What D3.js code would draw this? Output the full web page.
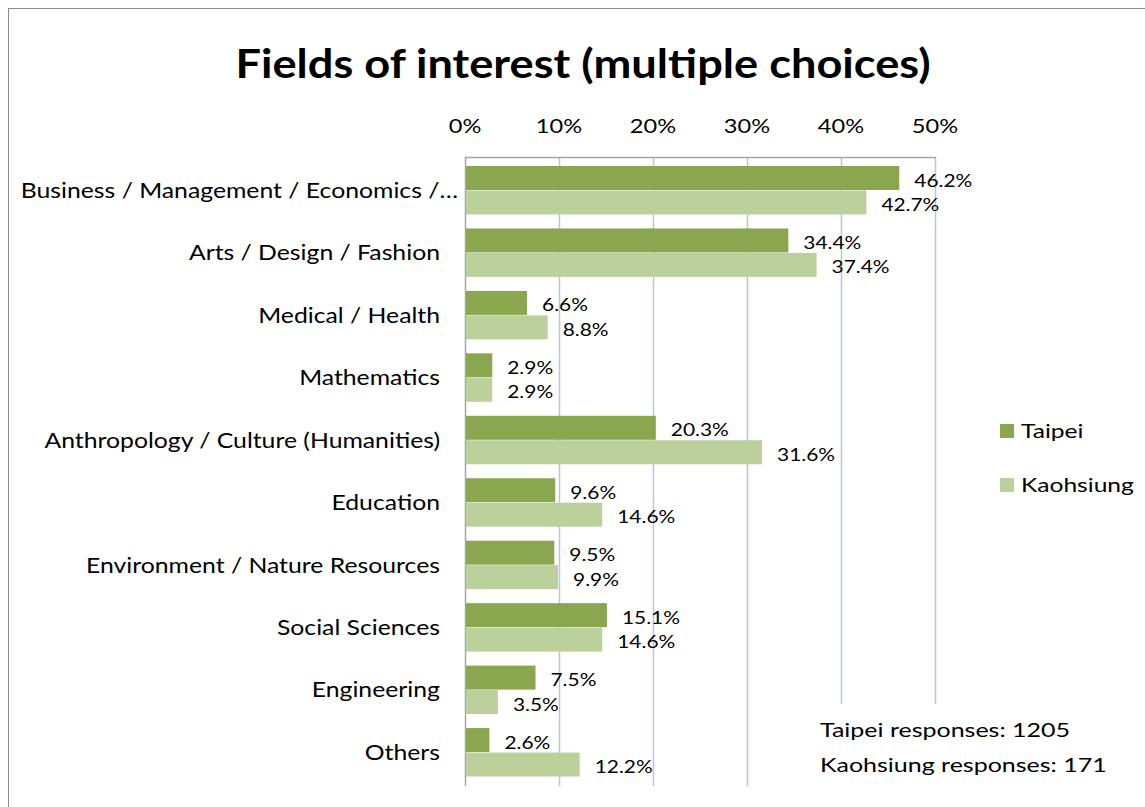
<!DOCTYPE html>
<html><head><meta charset="utf-8">
<script src="https://cdn.jsdelivr.net/npm/d3@7"></script>
<style>body{margin:0;background:#fff}svg{display:block}text{font-family:Lato,Carlito,Calibri,sans-serif}</style>
</head><body><svg id="c" width="1145" height="807"></svg>
<script>
const categories = ["Business / Management / Economics /…","Arts / Design / Fashion","Medical / Health","Mathematics","Anthropology / Culture (Humanities)","Education","Environment / Nature Resources","Social Sciences","Engineering","Others"];
const taipei = [46.2,34.4,6.6,2.9,20.3,9.6,9.5,15.1,7.5,2.6];
const kaohsiung = [42.7,37.4,8.8,2.9,31.6,14.6,9.9,14.6,3.5,12.2];
const seriesNames = ["Taipei","Kaohsiung"];
const tickValues = [0,10,20,30,40,50];
const notes = ["Taipei responses: 1205","Kaohsiung responses: 171"];

const colors = ["#8AA64F","#BBD09A"];
const svg = d3.select("#c");
svg.append("rect").attr("x",8.5).attr("y",8.5).attr("width",1200).attr("height",900).attr("fill","#fff").attr("stroke","#8c8c8c").attr("stroke-width",1);

function label(parent, x, y, str, size, anchor, sx, weight){
  const g = parent.append("g").attr("transform",`translate(${x},${y}) scale(${sx},1)`);
  g.append("text").attr("x",0).attr("y",0).attr("dy","0.35em").attr("text-anchor",anchor)
    .attr("font-size",size).attr("font-weight",weight||"normal").attr("fill","#000").text(str);
  return g;
}

label(svg, 583, 64, "Fields of interest (multiple choices)", 40, "middle", 1.13, "bold");

const L=465, R=935, T=157, B=786;
const x = d3.scaleLinear().domain([0,50]).range([L,R]);
const y = d3.scaleBand().domain(categories).range([T,B]).paddingInner(0.216).paddingOuter(0.144);
const sub = d3.scaleBand().domain(seriesNames).range([0,y.bandwidth()]);

// gridlines
svg.append("g").selectAll("line").data(tickValues.slice(1)).join("line")
  .attr("x1",d=>x(d)+0.5).attr("x2",d=>x(d)+0.5).attr("y1",T).attr("y2",B)
  .attr("stroke","#B4C7E7").attr("stroke-width",1.5);

// axes lines
svg.append("line").attr("x1",L).attr("x2",R+1).attr("y1",T+0.5).attr("y2",T+0.5).attr("stroke","#A6A6A6").attr("stroke-width",1.5);
svg.append("line").attr("x1",L+0.5).attr("x2",L+0.5).attr("y1",T).attr("y2",B).attr("stroke","#A6A6A6").attr("stroke-width",1.5);

// tick labels
const tg = svg.append("g");
tickValues.forEach(v=>label(tg, x(v), 126, v+"%", 20, "middle", 1.18));

// category labels (truncated labels overflow toward the axis, as in the original)
const cg = svg.append("g");
categories.forEach(c=>label(cg, c.endsWith("…") ? 458 : 440, y(c)+y.bandwidth()/2, c, 21, "end", 1.18));

const data = categories.map((c,i)=>({c, vals:[taipei[i],kaohsiung[i]]}));
const g = svg.append("g").selectAll("g").data(data).join("g").attr("transform",d=>`translate(0,${y(d.c)})`);
g.selectAll("rect").data(d=>d.vals.map((v,j)=>({v,s:seriesNames[j],j}))).join("rect")
  .attr("x",L+1).attr("y",d=>sub(d.s)).attr("height",sub.bandwidth()-0.5)
  .attr("width",d=>x(d.v)-L-1).attr("fill",d=>colors[d.j]);
g.each(function(d){
  const gg = d3.select(this);
  d.vals.forEach((v,j)=>label(gg, x(v)+15, sub(seriesNames[j])+sub.bandwidth()/2+2, v.toFixed(1)+"%", 18, "start", 1.16));
});

// legend
const lg = svg.append("g");
seriesNames.forEach((s,i)=>{
  lg.append("rect").attr("x",1000).attr("y",424+i*54).attr("width",14).attr("height",14).attr("fill",colors[i]);
  label(lg, 1021, 431+i*54, s, 20, "start", 1.23);
});

// notes box
svg.append("rect").attr("x",805).attr("y",704).attr("width",330).attr("height",82).attr("fill","#fff");
notes.forEach((n,i)=>label(svg, 820, 730+i*35, n, 20, "start", 1.25));
</script></body></html>
